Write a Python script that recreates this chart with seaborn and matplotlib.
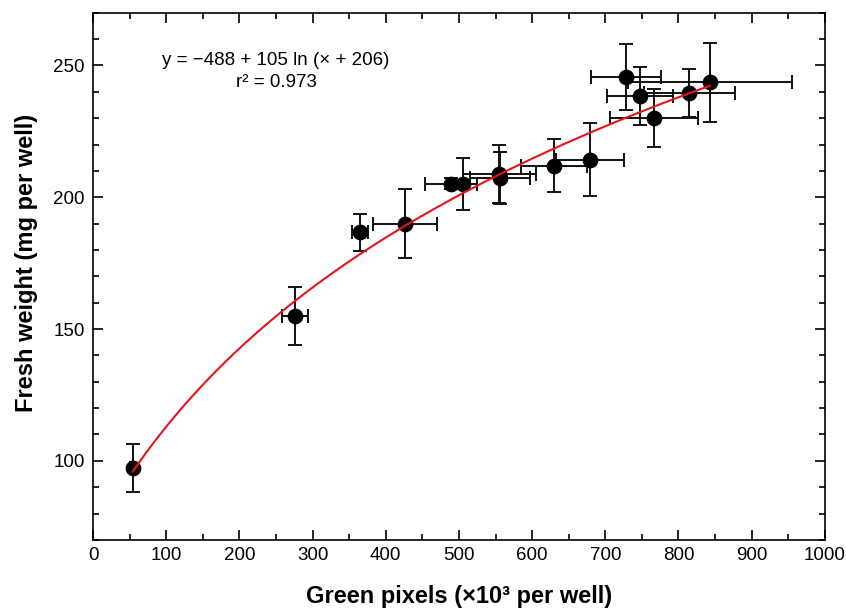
import numpy as np
import pandas as pd
import matplotlib
matplotlib.use("Agg")
import matplotlib.pyplot as plt
from matplotlib.ticker import MultipleLocator
import seaborn as sns

# data
green_px = [54, 276, 365, 426, 489, 505, 555, 556, 630, 679, 728, 747, 766, 815, 843]
fresh_wt = [97.3, 155, 186.7, 190, 205.2, 205, 209, 207.3, 212, 214.3, 245.5, 238.3, 230, 239.5, 243.6]
green_err = [3, 18, 11, 44, 36, 20, 50, 41, 45, 47, 48, 45, 60, 62, 112]
wt_err = [9, 11, 7, 13, 2, 10, 11, 10, 10, 14, 12.5, 11, 11, 9, 15]

# fitted model shown on the chart: y = a + b ln(x + c)
fit_a, fit_b, fit_c = -488, 105, 206
fit_label = "y = \u2212488 + 105 ln (\u00d7 + 206)\nr\u00b2 = 0.973"

df = pd.DataFrame({"x": green_px, "y": fresh_wt})
xs = np.linspace(min(green_px), max(green_px), 200)
fit_df = pd.DataFrame({"x": xs, "y": fit_a + fit_b * np.log(xs + fit_c)})

sns.set_style("ticks")
plt.rcParams["font.family"] = ["Liberation Sans", "DejaVu Sans"]
plt.rcParams["text.color"] = "black"
plt.rcParams["axes.labelcolor"] = "black"
plt.rcParams["xtick.color"] = "black"
plt.rcParams["ytick.color"] = "black"

fig = plt.figure(figsize=(8.46, 6.08), dpi=100)
ax = fig.add_axes([0.110, 0.112, 0.865, 0.867])

ax.errorbar(green_px, fresh_wt, xerr=green_err, yerr=wt_err, fmt="none",
            ecolor="#111111", elinewidth=1.4, capsize=5, capthick=1.4, zorder=2)
sns.scatterplot(data=df, x="x", y="y", ax=ax, color="black", s=110,
                edgecolor="black", zorder=3)
sns.lineplot(data=fit_df, x="x", y="y", ax=ax, color="#e8141c", lw=1.5, zorder=4)

ax.text(0.25, 0.925, fit_label, transform=ax.transAxes, ha="center", va="top",
        fontsize=13.5, linespacing=1.35)

ax.set_xlim(0, 1000)
ax.set_ylim(70, 270)
ax.xaxis.set_major_locator(MultipleLocator(100))
ax.xaxis.set_minor_locator(MultipleLocator(50))
ax.yaxis.set_major_locator(MultipleLocator(50))
ax.yaxis.set_minor_locator(MultipleLocator(10))
ax.tick_params(which="both", direction="in", top=True, right=True, labelsize=13.5, width=1.2)
ax.tick_params(which="major", length=7)
ax.tick_params(axis="x", which="major", pad=5)
ax.tick_params(axis="y", which="major", pad=6)
ax.tick_params(which="minor", length=4)
for s in ax.spines.values():
    s.set_linewidth(1.2)
    s.set_color("black")

ax.set_xlabel("Green pixels (\u00d710\u00b3 per well)", fontsize=17, fontweight="bold", labelpad=15)
ax.set_ylabel("Fresh weight (mg per well)", fontsize=17, fontweight="bold", labelpad=14)
ax.yaxis.set_label_coords(-0.075, 0.525)

plt.savefig("out.png", dpi=100)
